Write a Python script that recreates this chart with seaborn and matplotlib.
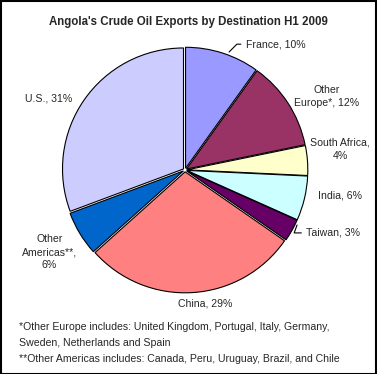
import matplotlib
matplotlib.use("Agg")
import matplotlib.pyplot as plt
import seaborn as sns
from matplotlib.patches import Rectangle

# ---- data ----
destinations = ["France", "Other\nEurope*", "South Africa", "India", "Taiwan",
                "China", "Other\nAmericas**", "U.S."]
shares = [10, 12, 4, 6, 3, 29, 6, 31]
colors = ["#9999FF", "#993366", "#FFFFCC", "#CCFFFF", "#660066",
          "#FF8080", "#0066CC", "#CCCCFF"]
title = "Angola's Crude Oil Exports by Destination H1 2009"
footnotes = ["*Other Europe includes: United Kingdom, Portugal, Italy, Germany,",
             "Sweden, Netherlands and Spain",
             "**Other Americas includes: Canada, Peru, Uruguay, Brazil, and Chile"]

sns.set_theme(style="white")
plt.rcParams["font.family"] = ["Liberation Sans", "DejaVu Sans"]

W, H = 377, 374
fig = plt.figure(figsize=(W / 100, H / 100), dpi=100)
fig.patch.set_facecolor("white")

# pie axes: center (185,170) px, radius 121 px
cx, cy, R = 185, 170, 121
half = 1.1
ax = fig.add_axes([(cx - half * R) / W, 1 - (cy + half * R) / H,
                   2 * half * R / W, 2 * half * R / H])

wedges, _ = ax.pie(shares, colors=colors, startangle=90, counterclock=False,
                   explode=[0.015] * len(shares),
                   wedgeprops=dict(edgecolor="black", linewidth=0.8))
ax.set_xlim(-half, half)
ax.set_ylim(-half, half)
ax.set_aspect("equal")
ax.axis("off")

fs = 7.6
labels = [f"{d}, {s}%" for d, s in zip(destinations, shares)]
labels[2] = "South Africa,\n4%"
labels[6] = "Other\nAmericas**,\n6%"

# label positions (layout, in pie radius units)
pos = [(0.50, 1.04, "left"), (1.17, 0.61, "center"), (1.28, 0.17, "center"),
       (1.28, -0.21, "center"), (1.0, -0.52, "left"), (0.165, -1.105, "center"),
       (-1.12, -0.68, "center"), (-1.124, 0.587, "center")]
leaders = {0: ((0.364, 0.975), 45), 4: ((0.926, -0.455), 70)}
for i, (lab, (x, y, ha)) in enumerate(zip(labels, pos)):
    if i in leaders:
        pt, ang = leaders[i]
        ax.annotate(lab, xy=pt, xytext=(x, y), ha=ha, va="center",
                    fontsize=fs, linespacing=1.4, annotation_clip=False,
                    arrowprops=dict(arrowstyle="-", color="black", lw=0.8,
                                    shrinkA=1, shrinkB=0,
                                    connectionstyle=f"angle,angleA=0,angleB={ang},rad=0"))
    else:
        ax.text(x, y, lab, ha=ha, va="center", fontsize=fs, linespacing=1.4,
                multialignment="center", clip_on=False)

fig.text(188 / W, 1 - 22 / H, title, ha="center", va="center",
         fontsize=8.3, fontweight="bold")
for k, line in enumerate(footnotes):
    fig.text(19 / W, 1 - (327 + 16 * k) / H, line, ha="left", va="center",
             fontsize=7.6)

fig.patches.append(Rectangle((0.5 / W, 0.5 / H), 1 - 1.5 / W, 1 - 1.5 / H,
                             transform=fig.transFigure, fill=False,
                             edgecolor="black", linewidth=1.5))

fig.savefig("out.png", dpi=100)
